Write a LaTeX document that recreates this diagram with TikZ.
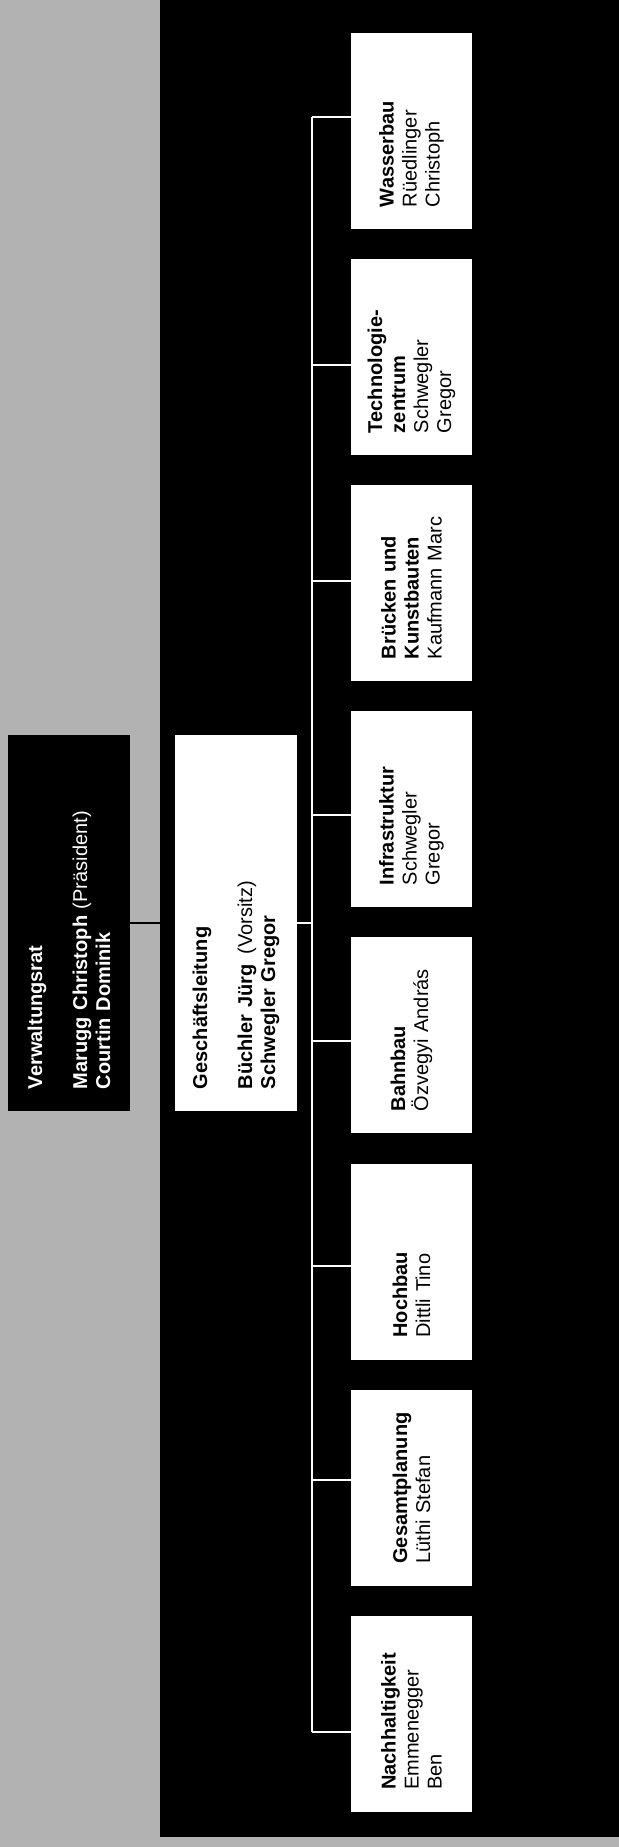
\documentclass[tikz,border=0pt]{standalone}
\usepackage{fontspec}
\setmainfont{Liberation Sans}
\usetikzlibrary{positioning}
\begin{document}
\begin{tikzpicture}[x=0.5pt,y=-0.5pt,box/.style={rotate=90,align=left,inner xsep=11pt,font=\fontsize{10}{11.5}\selectfont},board/.style={box,fill=black,text=white,text width=166pt,minimum width=188pt,minimum height=61pt},lead/.style={box,fill=white,text width=166pt,minimum width=188pt,minimum height=61pt},dept/.style={box,fill=white,text width=76pt,minimum width=98pt,minimum height=60.5pt},wire/.style={white,line width=1pt}]
\useasboundingbox (0,0) rectangle (619,1847);
\fill[black!30] (0,0) rectangle (619,1847);
\fill[black] (160,0) rectangle (619,1837);
\node[board] (vr) at (69,923) {\textbf{Verwaltungsrat}\\[11pt]\textbf{Marugg Christoph} (Präsident)\\\textbf{Courtin Dominik}};
\node[lead] (gl) at (236,923) {\textbf{Geschäftsleitung}\\[11pt]\textbf{Büchler Jürg}\enspace(Vorsitz)\\\textbf{Schwegler Gregor}};
\draw[line width=1pt] (vr.south) -- (gl.north);
\coordinate (bus) at (312,0);
\foreach \n/\t [count=\i from 0] in {wb/{\textbf{Wasserbau}\\Rüedlinger\\Christoph},tz/{\textbf{Technologie-}\\\textbf{zentrum}\\Schwegler\\Gregor},bk/{\textbf{Brücken und}\\\textbf{Kunstbauten}\\Kaufmann Marc},is/{\textbf{Infrastruktur}\\Schwegler\\Gregor},bb/{\textbf{Bahnbau}\\Özvegyi András},hb/{\textbf{Hochbau}\\Dittli Tino},gp/{\textbf{Gesamtplanung}\\Lüthi Stefan},nh/{\textbf{Nachhaltigkeit}\\Emmenegger\\Ben}}
  \node[dept] (\n) at (411.5,131+226.1*\i) {\t};
\draw[wire] (gl.south) -- (gl.south -| bus);
\draw[wire] ([yshift=7pt]wb.north -| bus) -- ([yshift=-9pt]nh.north -| bus);
\foreach \n/\s in {wb/7,tz/-4,bk/1,is/-3,bb/-3,hb/-2,gp/4,nh/-9}
  \draw[wire] ([yshift=\s pt]\n.north) -- ([yshift=\s pt]\n.north -| bus);
\end{tikzpicture}
\end{document}
